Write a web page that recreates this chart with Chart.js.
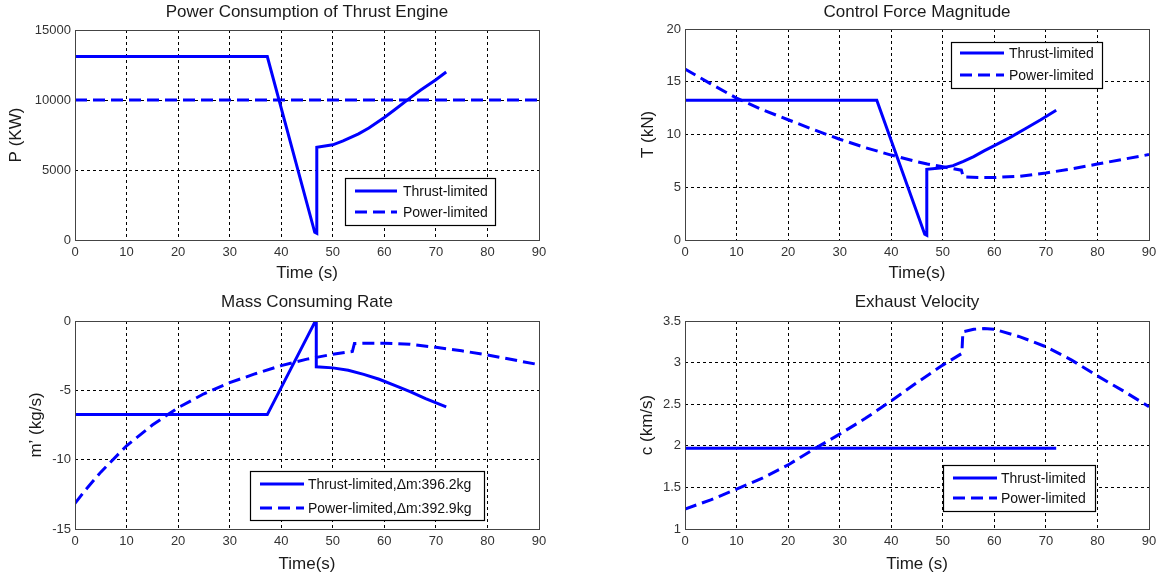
<!DOCTYPE html>
<html>
<head>
<meta charset="utf-8">
<script src="https://cdn.jsdelivr.net/npm/chart.js@4.4.1/dist/chart.umd.min.js"></script>
<style>
    html, body { margin: 0; padding: 0; background: #fff; }
    #wrap { position: relative; width: 1162px; height: 578px; }
    canvas { position: absolute; }
</style>
</head>
<body>
<div id="wrap">
    <canvas id="cPower" width="581" height="290" style="left:0;top:0"></canvas>
    <canvas id="cForce" width="581" height="290" style="left:581px;top:0"></canvas>
    <canvas id="cMass" width="581" height="288" style="left:0;top:290px"></canvas>
    <canvas id="cVel" width="581" height="288" style="left:581px;top:290px"></canvas>
</div>
<script>
// --- data ---
const powerThrustT = [0, 37.3, 46.5, 46.9, 46.9, 50, 52, 55, 57, 60, 62, 65, 67, 70, 72];
const powerThrustP = [13100, 13100, 550, 480, 6620, 6800, 7080, 7580, 8000, 8750, 9300, 10150, 10700, 11450, 12000];
const powerLimitT = [0, 90];
const powerLimitP = [10000, 10000];

const forceThrustT = [0, 37.2, 46.5, 46.9, 46.9, 50, 52, 54, 56, 58, 60, 63, 66, 69, 72];
const forceThrustF = [13.25, 13.25, 0.55, 0.45, 6.7, 6.85, 7.05, 7.45, 7.9, 8.45, 8.95, 9.7, 10.55, 11.4, 12.3];
const forceLimitT = [0, 5, 10, 15, 20, 25, 30, 35, 40, 45, 47, 50, 53.6, 54, 57, 60, 65, 70, 75, 80, 85, 90];
const forceLimitF = [16.2, 14.8, 13.45, 12.35, 11.4, 10.45, 9.55, 8.75, 8.05, 7.42, 7.2, 6.94, 6.62, 5.97, 5.92, 5.92, 6.05, 6.35, 6.75, 7.2, 7.65, 8.1];

const massThrustT = [0, 37.3, 46.5, 46.8, 46.8, 50, 53, 56, 59, 62, 65, 68, 72];
const massThrustM = [-6.75, -6.75, -0.1, -0.1, -3.3, -3.38, -3.55, -3.85, -4.2, -4.65, -5.1, -5.6, -6.2];
const massLimitT = [0, 2, 5, 10, 15, 20, 25, 30, 35, 40, 45, 50, 53.8, 54.2, 57, 60, 65, 70, 75, 80, 85, 90];
const massLimitM = [-13.15, -12.2, -10.9, -9.0, -7.5, -6.25, -5.25, -4.45, -3.8, -3.22, -2.75, -2.4, -2.2, -1.62, -1.6, -1.6, -1.68, -1.9, -2.15, -2.45, -2.8, -3.15];

const velThrustT = [0, 72];
const velThrustC = [1.97, 1.97];
const velLimitT = [0, 5, 10, 15, 20, 25, 30, 35, 40, 45, 50, 53.7, 53.9, 56, 58, 60, 65, 70, 75, 80, 85, 90];
const velLimitC = [1.24, 1.35, 1.48, 1.61, 1.77, 1.96, 2.14, 2.33, 2.54, 2.76, 2.97, 3.11, 3.37, 3.4, 3.41, 3.4, 3.31, 3.19, 3.03, 2.84, 2.66, 2.47];

const FONT = "'Liberation Sans', Arial, Helvetica, sans-serif";
const BLUE = '#0000ff';
const DASH = [12, 6];
const TITLE_SIZE = 17;

const pts = (xs, ys) => xs.map((x, i) => ({ x: x, y: ys[i] }));

function lineSet(label, xs, ys, dashed) {
    return {
        label: label,
        data: pts(xs, ys),
        borderColor: BLUE,
        borderWidth: 3,
        borderDash: dashed ? DASH : [],
        pointRadius: 0,
        tension: 0,
        fill: false
    };
}

// box round the axes, matlab style
const frame = {
    id: 'frame',
    afterDatasetsDraw(chart) {
        const { ctx, chartArea: a } = chart;
        ctx.save();
        ctx.strokeStyle = '#444';
        ctx.lineWidth = 1;
        ctx.strokeRect(Math.round(a.left) + 0.5, Math.round(a.top) + 0.5, Math.round(a.right - a.left), Math.round(a.bottom - a.top));
        ctx.restore();
    }
};

// legend drawn inside the axes at a fixed box
const boxLegend = {
    id: 'boxLegend',
    afterDraw(chart, args, opts) {
        if (!opts || !opts.box) return;
        const { ctx } = chart;
        const b = opts.box;
        ctx.save();
        ctx.fillStyle = '#fff';
        ctx.fillRect(b.x, b.y, b.w, b.h);
        ctx.strokeStyle = '#000';
        ctx.lineWidth = 1.2;
        ctx.strokeRect(b.x + 0.5, b.y + 0.5, b.w, b.h);
        ctx.font = '14px ' + FONT;
        ctx.textBaseline = 'middle';
        ctx.textAlign = 'left';
        chart.data.datasets.forEach((ds, i) => {
            const y = opts.rows[i];
            ctx.strokeStyle = ds.borderColor;
            ctx.lineWidth = ds.borderWidth;
            ctx.setLineDash(ds.borderDash || []);
            ctx.beginPath();
            ctx.moveTo(opts.sample[0], y);
            ctx.lineTo(opts.sample[1], y);
            ctx.stroke();
            ctx.setLineDash([]);
            ctx.fillStyle = '#111';
            ctx.fillText(ds.label, opts.textX, y + 1);
        });
        ctx.restore();
    }
};

function makeChart(id, cfg) {
    const canvas = document.getElementById(id);
    const W = canvas.width, H = canvas.height;
    const a = cfg.area;
    const half = TITLE_SIZE * 1.2 / 2;
    return new Chart(canvas, {
        type: 'line',
        data: { datasets: cfg.datasets },
        options: {
            responsive: false,
            animation: false,
            devicePixelRatio: 1,
            layout: { padding: { left: 0, top: 0, right: W - a.right, bottom: 0 } },
            plugins: {
                legend: { display: false },
                tooltip: { enabled: false },
                title: {
                    display: true,
                    text: cfg.title,
                    fullSize: false,
                    color: '#1a1a1a',
                    font: { family: FONT, size: TITLE_SIZE, weight: 'normal' },
                    padding: { top: 12.5 - half, bottom: a.top - 12.5 - half }
                },
                boxLegend: cfg.legend
            },
            scales: {
                x: {
                    type: 'linear',
                    min: 0,
                    max: 90,
                    afterFit: (s) => { s.height = H - a.bottom; },
                    ticks: {
                        stepSize: 10,
                        padding: 5,
                        color: '#333',
                        font: { family: FONT, size: 13 },
                        maxRotation: 0,
                        callback: (v) => String(v)
                    },
                    grid: { color: '#000', lineWidth: 1, drawTicks: false },
                    border: { display: false, dash: [3, 3] },
                    title: {
                        display: true,
                        text: cfg.xTitle,
                        color: '#1a1a1a',
                        font: { family: FONT, size: TITLE_SIZE },
                        padding: { top: 0, bottom: cfg.xTitleAt - half }
                    }
                },
                y: {
                    type: 'linear',
                    min: cfg.yMin,
                    max: cfg.yMax,
                    afterFit: (s) => { s.width = a.left; },
                    ticks: {
                        stepSize: cfg.yStep,
                        padding: 4,
                        color: '#333',
                        font: { family: FONT, size: 13 },
                        callback: (v) => String(v)
                    },
                    grid: { color: '#000', lineWidth: 1, drawTicks: false },
                    border: { display: false, dash: [3, 3] },
                    title: {
                        display: true,
                        text: cfg.yTitle,
                        color: '#1a1a1a',
                        font: { family: FONT, size: TITLE_SIZE },
                        padding: { top: cfg.yTitleAt - half, bottom: 0 }
                    }
                }
            }
        },
        plugins: [frame, boxLegend]
    });
}

makeChart('cPower', {
    title: 'Power Consumption of Thrust Engine',
    xTitle: 'Time (s)', yTitle: 'P (KW)',
    yMin: 0, yMax: 15000, yStep: 5000,
    area: { left: 75, top: 30, right: 539, bottom: 240 },
    xTitleAt: 17, yTitleAt: 16.6,
    datasets: [
        lineSet('Thrust-limited', powerThrustT, powerThrustP, false),
        lineSet('Power-limited', powerLimitT, powerLimitP, true)
    ],
    legend: { box: { x: 345, y: 178, w: 150, h: 47 }, rows: [191, 212], sample: [355, 397], textX: 403 }
});

makeChart('cForce', {
    title: 'Control Force Magnitude',
    xTitle: 'Time(s)', yTitle: 'T (kN)',
    yMin: 0, yMax: 20, yStep: 5,
    area: { left: 104, top: 29, right: 568, bottom: 240 },
    xTitleAt: 17, yTitleAt: 67.8,
    datasets: [
        lineSet('Thrust-limited', forceThrustT, forceThrustF, false),
        lineSet('Power-limited', forceLimitT, forceLimitF, true)
    ],
    legend: { box: { x: 370, y: 42, w: 151, h: 46 }, rows: [53, 75], sample: [379, 423], textX: 428 }
});

makeChart('cMass', {
    title: 'Mass Consuming Rate',
    xTitle: 'Time(s)', yTitle: 'm\u2019 (kg/s)',
    yMin: -15, yMax: 0, yStep: 5,
    area: { left: 75, top: 31, right: 539, bottom: 239 },
    xTitleAt: 13.5, yTitleAt: 36,
    datasets: [
        lineSet('Thrust-limited,\u0394m:396.2kg', massThrustT, massThrustM, false),
        lineSet('Power-limited,\u0394m:392.9kg', massLimitT, massLimitM, true)
    ],
    legend: { box: { x: 250, y: 181, w: 234, h: 49 }, rows: [194, 218], sample: [260, 304], textX: 308 }
});

makeChart('cVel', {
    title: 'Exhaust Velocity',
    xTitle: 'Time (s)', yTitle: 'c (km/s)',
    yMin: 1, yMax: 3.5, yStep: 0.5,
    area: { left: 104, top: 31, right: 568, bottom: 239 },
    xTitleAt: 13.5, yTitleAt: 66,
    datasets: [
        lineSet('Thrust-limited', velThrustT, velThrustC, false),
        lineSet('Power-limited', velLimitT, velLimitC, true)
    ],
    legend: { box: { x: 362, y: 175, w: 152, h: 46 }, rows: [188, 208], sample: [372, 416], textX: 420 }
});
</script>
</body>
</html>
